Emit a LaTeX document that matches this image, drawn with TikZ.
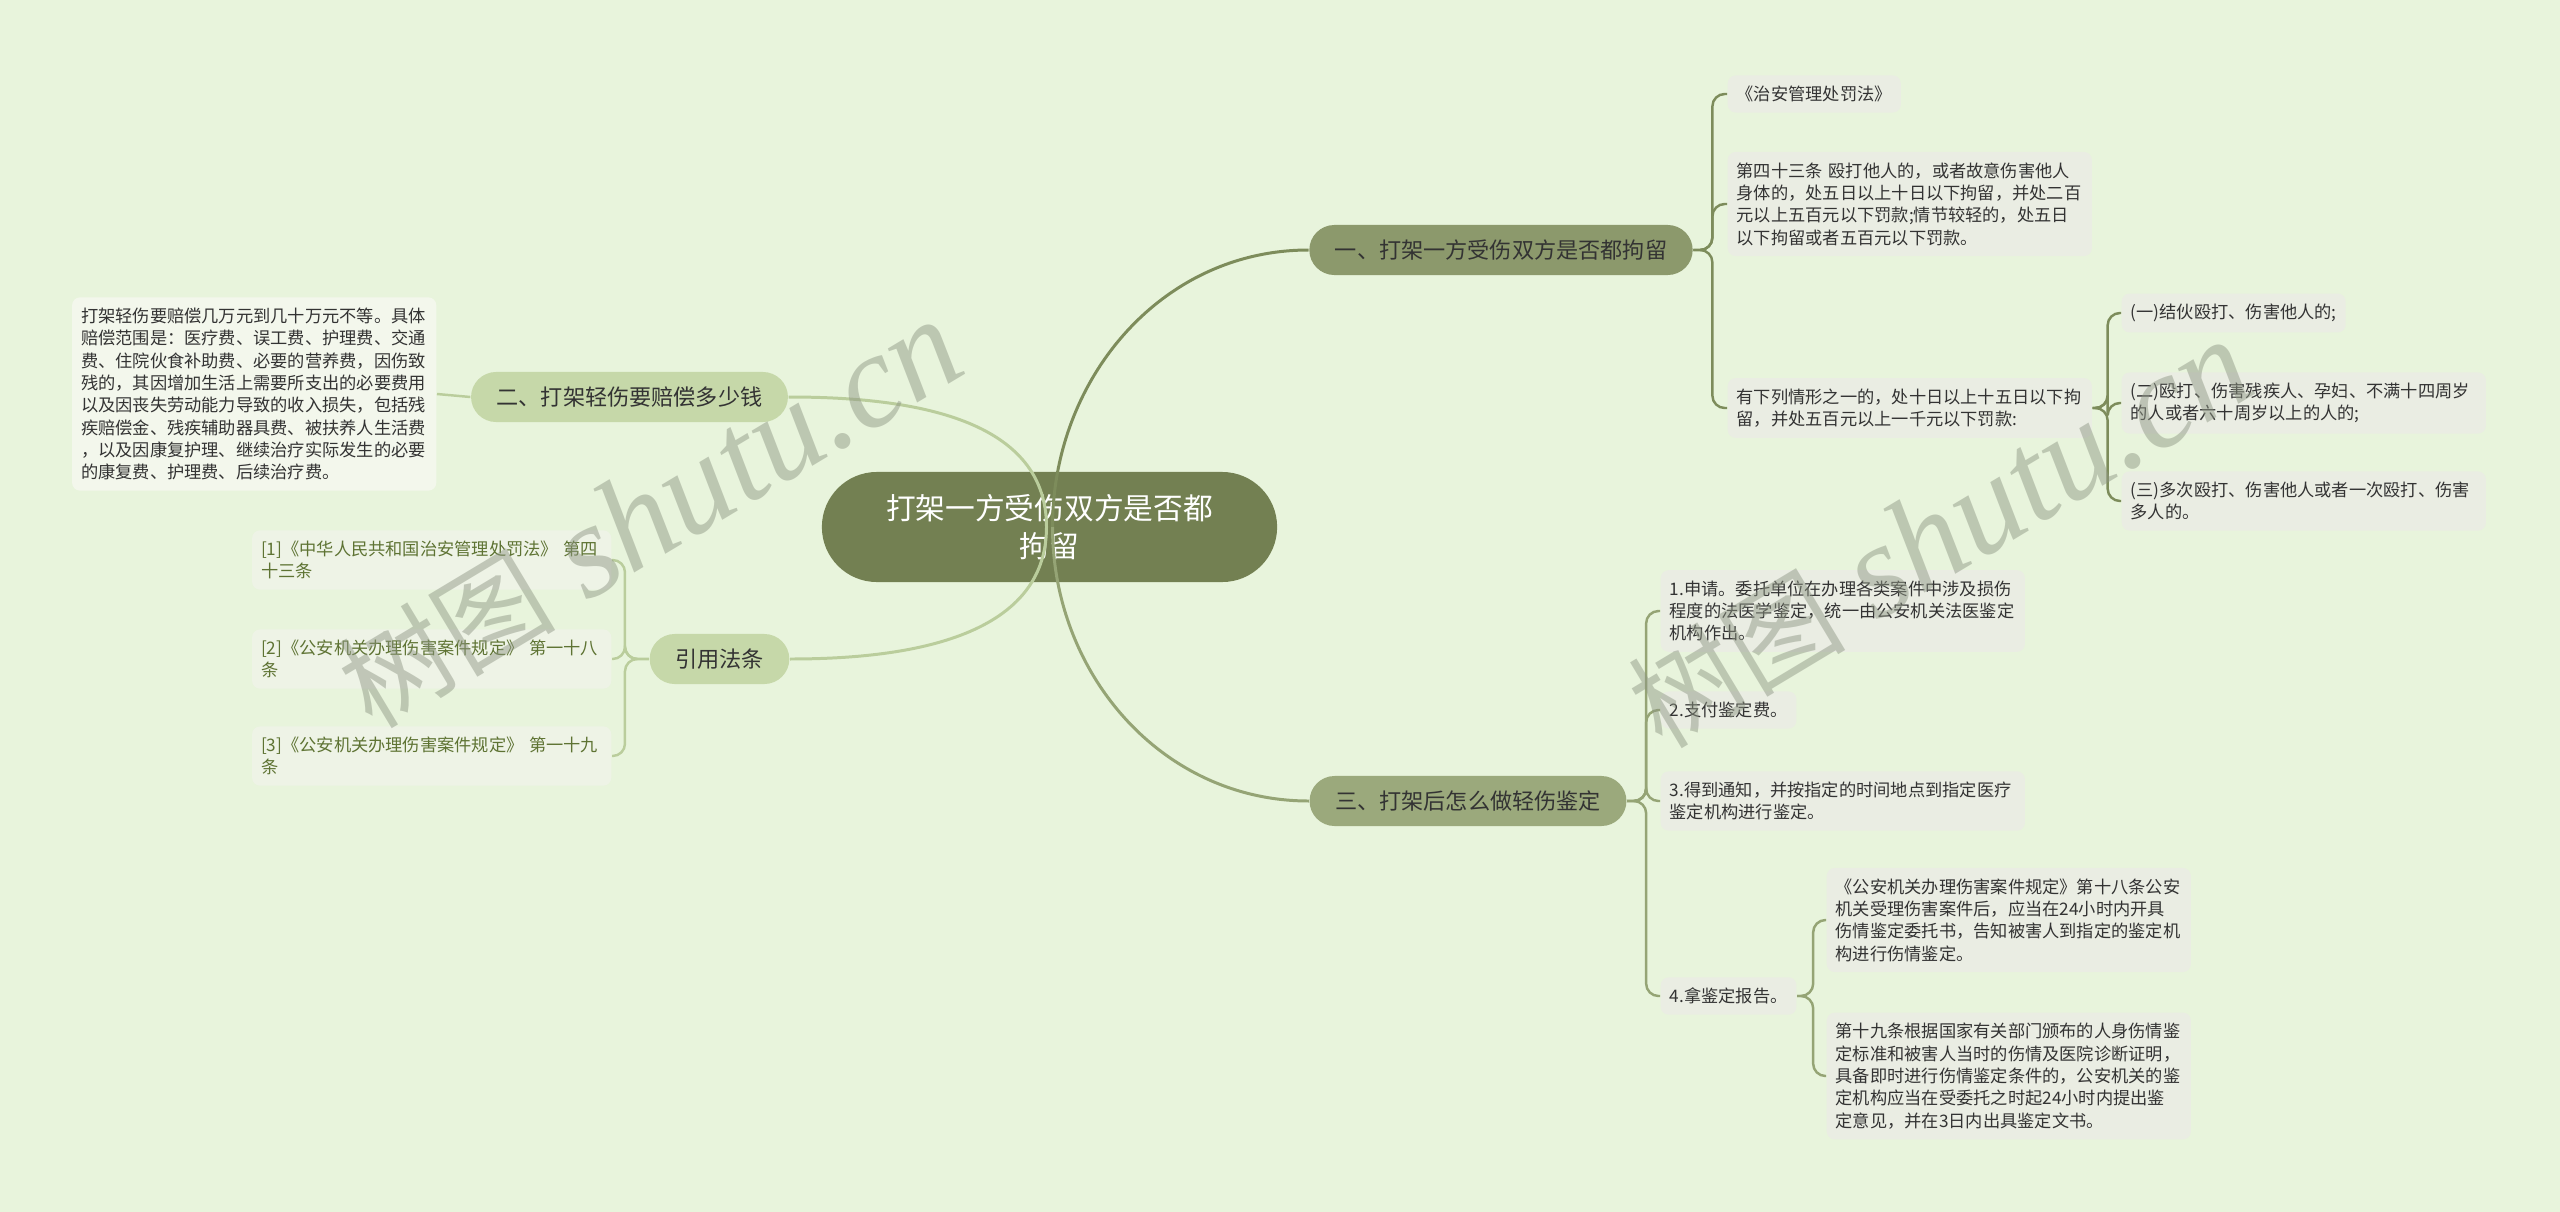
\documentclass[tikz,border=0pt]{standalone}
\usepackage{fontspec}
\setmainfont{Noto Sans CJK SC}
\newfontfamily\wmlatin{Liberation Serif}

\definecolor{bgcol}{HTML}{E8F4DC}
\definecolor{rootcol}{HTML}{738052}
\definecolor{onecol}{HTML}{8C996C}
\definecolor{threecol}{HTML}{9BA97C}
\definecolor{twocol}{HTML}{C6D8A9}
\definecolor{leafcol}{HTML}{EAEDE3}
\definecolor{paleleaf}{HTML}{F3F7EC}
\definecolor{refleaf}{HTML}{EEF3E6}
\definecolor{reftext}{HTML}{5E7333}
\definecolor{inkcol}{HTML}{333333}
\definecolor{linkone}{HTML}{7D8C5B}
\definecolor{linkthree}{HTML}{95A475}
\definecolor{linktwo}{HTML}{BACD9C}
\definecolor{wmcol}{HTML}{8E9684}

\tikzset{
  rootbox/.style={rectangle, rounded corners=0.55cm, fill=rootcol, text=white,
    minimum width=4.55cm, minimum height=1.1cm, align=center,
    font=\fontsize{8.45}{10.8}\selectfont},
  mainbox/.style={rectangle, rounded corners=0.25cm, minimum height=0.5cm,
    inner xsep=0.255cm, inner ysep=0pt, text=inkcol,
    font=\fontsize{6.3}{7.5}\selectfont},
  leafbox/.style={rectangle, rounded corners=0.08cm, fill=leafcol, text=inkcol,
    inner xsep=0.09cm, inner ysep=0.105cm, align=left,
    font=\fontsize{4.9}{6.35}\selectfont},
  widebox/.style={leafbox, text width=3.46cm},
  refbox/.style={leafbox, fill=refleaf, text=reftext, text width=3.41cm},
  trunk/.style={line width=0.85pt},
  twig/.style={line width=0.7pt, rounded corners=3.5pt},
  wmark/.style={text=wmcol, text opacity=0.48, rotate=31}
}
\newcommand\wmtext{{\fontsize{31}{31}\selectfont 树图}\hspace{9pt}{\wmlatin\itshape\fontsize{38}{38}\selectfont shutu.cn}}

\begin{document}
\begin{tikzpicture}[x=0.01cm, y=-0.01cm]
  \useasboundingbox (0,0) rectangle (2560,1212);
  \fill[bgcol] (0,0) rectangle (2560,1212);

  % centre and main topics
  \node[rootbox] (root) at (1049.5,527) {打架一方受伤双方是否都\\拘留};
  \node[mainbox, fill=onecol] (b1) at (1501,250) {一、打架一方受伤双方是否都拘留};
  \node[mainbox, fill=twocol] (b2) at (629.5,397) {二、打架轻伤要赔偿多少钱};
  \node[mainbox, fill=threecol] (b3) at (1468,801) {三、打架后怎么做轻伤鉴定};
  \node[mainbox, fill=twocol] (bref) at (719.5,659) {引用法条};

  % topic one
  \node[leafbox, anchor=west] (c11) at (1727,94) {《治安管理处罚法》};
  \node[widebox, anchor=west] (c12) at (1727,204) {第四十三条 殴打他人的，或者故意伤害他人\\身体的，处五日以上十日以下拘留，并处二百\\元以上五百元以下罚款;情节较轻的，处五日\\以下拘留或者五百元以下罚款。};
  \node[widebox, anchor=west] (c13) at (1727,408) {有下列情形之一的，处十日以上十五日以下拘\\留，并处五百元以上一千元以下罚款:};
  \node[leafbox, anchor=west] (c131) at (2121,313) {(一)结伙殴打、伤害他人的;};
  \node[widebox, anchor=west] (c132) at (2121,403) {(二)殴打、伤害残疾人、孕妇、不满十四周岁\\的人或者六十周岁以上的人的;};
  \node[widebox, anchor=west] (c133) at (2121,501) {(三)多次殴打、伤害他人或者一次殴打、伤害\\多人的。};

  % topic two
  \node[widebox, fill=paleleaf, anchor=east] (l2) at (437,394) {打架轻伤要赔偿几万元到几十万元不等。具体\\赔偿范围是：医疗费、误工费、护理费、交通\\费、住院伙食补助费、必要的营养费，因伤致\\残的，其因增加生活上需要所支出的必要费用\\以及因丧失劳动能力导致的收入损失，包括残\\疾赔偿金、残疾辅助器具费、被扶养人生活费\\，以及因康复护理、继续治疗实际发生的必要\\的康复费、护理费、后续治疗费。};

  % topic three
  \node[widebox, anchor=west] (c31) at (1660,611) {1.申请。委托单位在办理各类案件中涉及损伤\\程度的法医学鉴定，统一由公安机关法医鉴定\\机构作出。};
  \node[leafbox, anchor=west] (c32) at (1660,710) {2.支付鉴定费。};
  \node[widebox, anchor=west] (c33) at (1660,801) {3.得到通知，并按指定的时间地点到指定医疗\\鉴定机构进行鉴定。};
  \node[leafbox, anchor=west] (c34) at (1660,996) {4.拿鉴定报告。};
  \node[widebox, anchor=west] (c341) at (1826,920) {《公安机关办理伤害案件规定》第十八条公安\\机关受理伤害案件后，应当在24小时内开具\\伤情鉴定委托书，告知被害人到指定的鉴定机\\构进行伤情鉴定。};
  \node[widebox, anchor=west] (c342) at (1826,1076) {第十九条根据国家有关部门颁布的人身伤情鉴\\定标准和被害人当时的伤情及医院诊断证明，\\具备即时进行伤情鉴定条件的，公安机关的鉴\\定机构应当在受委托之时起24小时内提出鉴\\定意见，并在3日内出具鉴定文书。};

  % cited articles
  \node[refbox, anchor=east] (r1) at (612,560) {[1]《中华人民共和国治安管理处罚法》 第四\\十三条};
  \node[refbox, anchor=east] (r2) at (612,659) {[2]《公安机关办理伤害案件规定》 第一十八\\条};
  \node[refbox, anchor=east] (r3) at (612,756) {[3]《公安机关办理伤害案件规定》 第一十九\\条};

  % links from the centre
  \draw[trunk, linkone] ([xshift=0.03cm]root.center) to[out=90,in=180] (b1.west);
  \draw[trunk, linkthree] ([xshift=0.03cm]root.center) to[out=-90,in=180] (b3.west);
  \draw[trunk, linktwo] ([xshift=-0.03cm]root.center) to[out=90,in=0] (b2.east);
  \draw[trunk, linktwo] ([xshift=-0.03cm]root.center) to[out=-90,in=0] (bref.east);

  % links to the leaves
  \foreach \c in {c11,c12,c13}
    \draw[twig, linkone] (b1.east) -- ++(19,0) |- (\c.west);
  \foreach \c in {c131,c132,c133}
    \draw[twig, linkone] (c13.east) -- ++(15,0) |- (\c.west);
  \foreach \c in {c31,c32,c33,c34}
    \draw[twig, linkthree] (b3.east) -- ++(19,0) |- (\c.west);
  \foreach \c in {c341,c342}
    \draw[twig, linkthree] (c34.east) -- ++(16,0) |- (\c.west);
  \foreach \c in {r1,r2,r3}
    \draw[twig, linktwo] (bref.west) -- ++(-24,0) |- (\c.east);
  \draw[twig, linktwo] (b2.west) -- (l2.east);

  % watermarks
  \node[wmark] (wm1) at (650,515) {\wmtext};
  \node[wmark] (wm2) at (1940,535) {\wmtext};
\end{tikzpicture}
\end{document}
